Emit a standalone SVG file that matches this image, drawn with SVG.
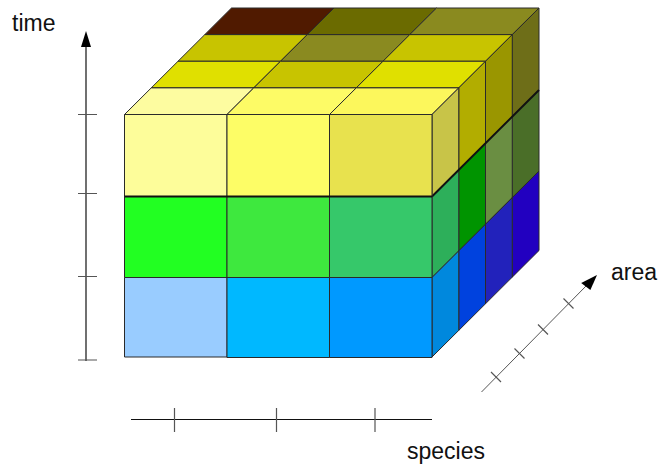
<svg xmlns="http://www.w3.org/2000/svg" width="660" height="466" viewBox="0 0 660 466">
<style>
.f{stroke:#2a2a2a;stroke-width:1;stroke-linejoin:round}
.ax{stroke:#111;stroke-width:1.2;fill:none}
.tk{stroke:#555;stroke-width:1.2;fill:none}
.dg{stroke:#555;stroke-width:1;fill:none}
.lbl{font-family:"Liberation Sans",Arial,sans-serif;font-size:23px;fill:#111}
</style>
<rect width="660" height="466" fill="#fff"/>
<g id="top-faces">
<polygon class="f" fill="#501a00" points="204.75,34.625 307.25,34.625 334,8 231.5,8"/>
<polygon class="f" fill="#6b6b00" points="307.25,34.625 409.75,34.625 436.5,8 334,8"/>
<polygon class="f" fill="#8a8a1f" points="409.75,34.625 512.25,34.625 539,8 436.5,8"/>
<polygon class="f" fill="#c8c400" points="178,61.25 280.5,61.25 307.25,34.625 204.75,34.625"/>
<polygon class="f" fill="#8a8a20" points="280.5,61.25 383,61.25 409.75,34.625 307.25,34.625"/>
<polygon class="f" fill="#c8c400" points="383,61.25 485.5,61.25 512.25,34.625 409.75,34.625"/>
<polygon class="f" fill="#e0e000" points="151.25,87.875 253.75,87.875 280.5,61.25 178,61.25"/>
<polygon class="f" fill="#c8c400" points="253.75,87.875 356.25,87.875 383,61.25 280.5,61.25"/>
<polygon class="f" fill="#e0e000" points="356.25,87.875 458.75,87.875 485.5,61.25 383,61.25"/>
<polygon class="f" fill="#fdfca0" points="124.5,114.5 227,114.5 253.75,87.875 151.25,87.875"/>
<polygon class="f" fill="#fdfb66" points="227,114.5 329.5,114.5 356.25,87.875 253.75,87.875"/>
<polygon class="f" fill="#fcf75c" points="329.5,114.5 432,114.5 458.75,87.875 356.25,87.875"/>
</g>
<g id="right-faces">
<polygon class="f" fill="#6e6e18" points="512.25,34.625 539,8 539,90 512.25,116.625"/>
<polygon class="f" fill="#9a9600" points="485.5,61.25 512.25,34.625 512.25,116.625 485.5,143.25"/>
<polygon class="f" fill="#b2ad00" points="458.75,87.875 485.5,61.25 485.5,143.25 458.75,169.875"/>
<polygon class="f" fill="#c8c448" points="432,114.5 458.75,87.875 458.75,169.875 432,196.5"/>
<polygon class="f" fill="#4a6e28" points="512.25,116.625 539,90 539,171 512.25,197.625"/>
<polygon class="f" fill="#6a8e42" points="485.5,143.25 512.25,116.625 512.25,197.625 485.5,224.25"/>
<polygon class="f" fill="#009400" points="458.75,169.875 485.5,143.25 485.5,224.25 458.75,250.875"/>
<polygon class="f" fill="#2daf5a" points="432,196.5 458.75,169.875 458.75,250.875 432,277.5"/>
<polygon class="f" fill="#2200c0" points="512.25,197.625 539,171 539,250.5 512.25,277.125"/>
<polygon class="f" fill="#2222bb" points="485.5,224.25 512.25,197.625 512.25,277.125 485.5,303.75"/>
<polygon class="f" fill="#0042de" points="458.75,250.875 485.5,224.25 485.5,303.75 458.75,330.375"/>
<polygon class="f" fill="#0088dd" points="432,277.5 458.75,250.875 458.75,330.375 432,357"/>
<polyline fill="none" stroke="#111" stroke-width="2" points="432,196.5 539,90"/>
</g>
<g id="front-faces">
<rect class="f" fill="#fdfd9a" x="124.5" y="114.5" width="102.5" height="82"/>
<rect class="f" fill="#fdfd66" x="227" y="114.5" width="102.5" height="82"/>
<rect class="f" fill="#e8e24e" x="329.5" y="114.5" width="102.5" height="82"/>
<rect class="f" fill="#22ff22" x="124.5" y="196.5" width="102.5" height="81"/>
<rect class="f" fill="#3ee83e" x="227" y="196.5" width="102.5" height="81"/>
<rect class="f" fill="#36c86a" x="329.5" y="196.5" width="102.5" height="81"/>
<rect class="f" fill="#99ccff" x="124.5" y="277.5" width="102.5" height="79.5"/>
<rect class="f" fill="#00b8ff" x="227" y="277.5" width="102.5" height="80"/>
<rect class="f" fill="#0099ff" x="329.5" y="277.5" width="102.5" height="80"/>
<line x1="124.5" y1="196.5" x2="432" y2="196.5" stroke="#111" stroke-width="2"/>
</g>
<g id="connectors">
<g id="time-axis">
<line class="ax" x1="86" y1="361" x2="86" y2="46"/>
<polygon fill="#000" points="86,31 81,47 91,47"/>
<path class="tk" d="M78,114.5H97M78,193.5H97M78,276.5H97M78,360H97"/>
</g>
<g id="species-axis">
<line class="ax" x1="131" y1="419.5" x2="432" y2="419.5"/>
<path class="tk" d="M174.5,408V432M276.5,408V432M375,408V432"/>
</g>
<g id="area-axis">
<line class="dg" x1="481.5" y1="392" x2="588" y2="284"/>
<polygon fill="#000" points="597,275 590.4,289.9 581.2,282.9"/>
<path class="tk" d="M491,372L501,382M514.5,348.5L524.5,358.5M538,324.5L548,334.5M563.5,298.5L573.5,308.5"/>
</g>
</g>
<text class="lbl" x="12" y="31">time</text>
<text class="lbl" x="407" y="459">species</text>
<text class="lbl" x="611" y="280">area</text>
</svg>
